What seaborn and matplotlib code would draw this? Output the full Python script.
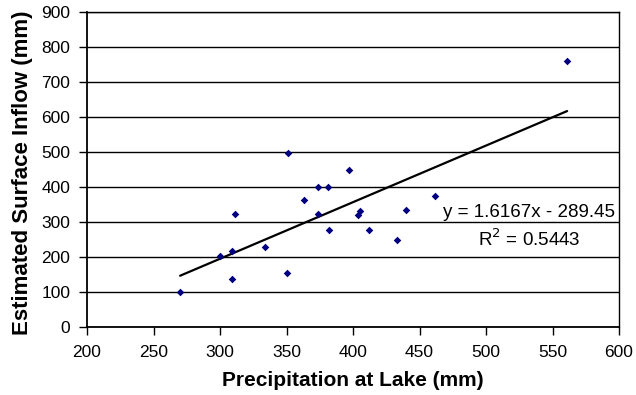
import matplotlib
matplotlib.use("Agg")
import matplotlib.pyplot as plt
import numpy as np
import pandas as pd
import seaborn as sns

# values
precip = [270, 300, 309, 309, 311, 334, 350, 351, 363, 374, 381, 374, 382,
          397, 404, 405, 412, 433, 440, 462, 561]
inflow = [100, 203, 218, 136, 322, 230, 154, 498, 362, 401, 401, 322, 277,
          449, 320, 331, 277, 248, 334, 373, 761]
x_ticks = [200, 250, 300, 350, 400, 450, 500, 550, 600]
y_ticks = [0, 100, 200, 300, 400, 500, 600, 700, 800, 900]

df = pd.DataFrame({'precip': precip, 'inflow': inflow})

sns.set_style('white')
plt.rcParams['font.family'] = ['Liberation Sans', 'DejaVu Sans']
plt.rcParams['text.color'] = 'black'
plt.rcParams['axes.labelcolor'] = 'black'
plt.rcParams['xtick.color'] = 'black'
plt.rcParams['ytick.color'] = 'black'

fig = plt.figure(figsize=(6.36, 3.95), dpi=100)
ax = fig.add_axes([87 / 636, 1 - 327 / 395, (619 - 87) / 636, (327 - 12) / 395])

# trendline over the data range, like the Excel linear trendline
sns.regplot(data=df, x='precip', y='inflow', ax=ax, ci=None, scatter=False,
            line_kws={'color': 'black', 'linewidth': 1.6})
sns.scatterplot(data=df, x='precip', y='inflow', ax=ax, marker='D', s=15,
                color='#000080', edgecolor='#000080', linewidth=0, zorder=3)

ax.set_xlim(200, 600)
ax.set_ylim(0, 900)
ax.set_xticks(x_ticks)
ax.set_yticks(y_ticks)
ax.yaxis.grid(True, color='black', linewidth=1)
ax.xaxis.grid(False)
ax.set_axisbelow(True)

for side in ['top', 'right', 'left', 'bottom']:
    ax.spines[side].set_color('black')
    ax.spines[side].set_linewidth(1)
ax.spines['left'].set_linewidth(1.3)
ax.spines['bottom'].set_linewidth(1.3)

ax.tick_params(axis='both', direction='out', length=6, width=1, color='black',
               labelsize=12.5, bottom=True, left=True)
ax.tick_params(axis='x', pad=7)
ax.tick_params(axis='y', pad=6)

ax.set_xlabel('Precipitation at Lake (mm)', fontsize=15, fontweight='bold', va='center')
ax.set_ylabel('Estimated Surface Inflow (mm)', fontsize=16, fontweight='bold', va='center')
ax.xaxis.set_label_coords(0.5, -0.171)
ax.yaxis.set_label_coords(-0.122, 0.49)

ax.text(468, 314, 'y = 1.6167x - 289.45', fontsize=13.5, va='baseline', ha='left')
ax.text(494, 231, r'R$^2$ = 0.5443', fontsize=13.5, va='baseline', ha='left')

fig.savefig('out.png', dpi=100)
